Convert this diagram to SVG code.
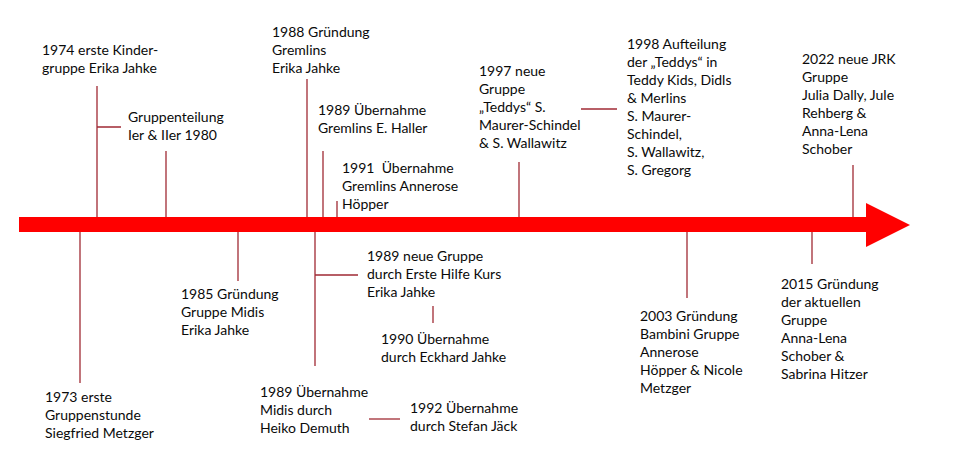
<svg xmlns="http://www.w3.org/2000/svg" width="960" height="466" viewBox="0 0 960 466">
<style>
text{font-family:Lato,"Liberation Sans","DejaVu Sans",sans-serif;font-size:14px;fill:#0a0a0a}
.c{stroke:#a02a34;stroke-width:1.3;fill:none}
</style>
<rect width="960" height="466" fill="#fff"/>
<g id="timeline">
<path d="M19 217 H866 V203 L910 225 L866 247 V232 H19 Z" fill="#ff0000"/>
</g>
<g id="connectors" class="c">
<path d="M97 86 V217 M97 127 H121"/>
<path d="M166 151 V217"/>
<path d="M307 79 V217"/>
<path d="M323 151 V217"/>
<path d="M337 201 V217"/>
<path d="M519 162 V217"/>
<path d="M581 109 H617"/>
<path d="M853 165 V217"/>
<path d="M80 232 V383"/>
<path d="M238 232 V281"/>
<path d="M315 232 V366 M315 275 H358"/>
<path d="M433 306 V323"/>
<path d="M369 419 H400"/>
<path d="M687 232 V298"/>
<path d="M812 232 V264"/>
</g>
<g id="e1974"><text x="42" y="55"><tspan x="42">1974 erste Kinder-</tspan><tspan x="42" dy="18">gruppe Erika Jahke</tspan></text></g>
<g id="e1980"><text x="128" y="122"><tspan x="128">Gruppenteilung</tspan><tspan x="128" dy="18">Ier &amp; IIer 1980</tspan></text></g>
<g id="e1988"><text x="272" y="37"><tspan x="272">1988 Gründung</tspan><tspan x="272" dy="18">Gremlins</tspan><tspan x="272" dy="18">Erika Jahke</tspan></text></g>
<g id="e1989g"><text x="318" y="115"><tspan x="318">1989 Übernahme</tspan><tspan x="318" dy="18">Gremlins E. Haller</tspan></text></g>
<g id="e1991"><text x="342" y="173" xml:space="preserve"><tspan x="342">1991  Übernahme</tspan><tspan x="342" dy="18">Gremlins Annerose</tspan><tspan x="342" dy="18">Höpper</tspan></text></g>
<g id="e1997"><text x="479" y="76"><tspan x="479">1997 neue</tspan><tspan x="479" dy="18">Gruppe</tspan><tspan x="479" dy="18">„Teddys“ S.</tspan><tspan x="479" dy="18">Maurer-Schindel</tspan><tspan x="479" dy="18">&amp; S. Wallawitz</tspan></text></g>
<g id="e1998"><text x="627" y="49"><tspan x="627">1998 Aufteilung</tspan><tspan x="627" dy="18">der „Teddys“ in</tspan><tspan x="627" dy="18">Teddy Kids, Didls</tspan><tspan x="627" dy="18">&amp; Merlins</tspan><tspan x="627" dy="18">S. Maurer-</tspan><tspan x="627" dy="18">Schindel,</tspan><tspan x="627" dy="18">S. Wallawitz,</tspan><tspan x="627" dy="18">S. Gregorg</tspan></text></g>
<g id="e2022"><text x="802" y="64"><tspan x="802">2022 neue JRK</tspan><tspan x="802" dy="18">Gruppe</tspan><tspan x="802" dy="18">Julia Dally, Jule</tspan><tspan x="802" dy="18">Rehberg &amp;</tspan><tspan x="802" dy="18">Anna-Lena</tspan><tspan x="802" dy="18">Schober</tspan></text></g>
<g id="e1973"><text x="45" y="402"><tspan x="45">1973 erste</tspan><tspan x="45" dy="18">Gruppenstunde</tspan><tspan x="45" dy="18">Siegfried Metzger</tspan></text></g>
<g id="e1985"><text x="181" y="299"><tspan x="181">1985 Gründung</tspan><tspan x="181" dy="18">Gruppe Midis</tspan><tspan x="181" dy="18">Erika Jahke</tspan></text></g>
<g id="e1989m"><text x="260" y="397"><tspan x="260">1989 Übernahme</tspan><tspan x="260" dy="18">Midis durch</tspan><tspan x="260" dy="18">Heiko Demuth</tspan></text></g>
<g id="e1989n"><text x="367" y="261"><tspan x="367">1989 neue Gruppe</tspan><tspan x="367" dy="18">durch Erste Hilfe Kurs</tspan><tspan x="367" dy="18">Erika Jahke</tspan></text></g>
<g id="e1990"><text x="381" y="344"><tspan x="381">1990 Übernahme</tspan><tspan x="381" dy="18">durch Eckhard Jahke</tspan></text></g>
<g id="e1992"><text x="410" y="413"><tspan x="410">1992 Übernahme</tspan><tspan x="410" dy="18">durch Stefan Jäck</tspan></text></g>
<g id="e2003"><text x="640" y="321"><tspan x="640">2003 Gründung</tspan><tspan x="640" dy="18">Bambini Gruppe</tspan><tspan x="640" dy="18">Annerose</tspan><tspan x="640" dy="18">Höpper &amp; Nicole</tspan><tspan x="640" dy="18">Metzger</tspan></text></g>
<g id="e2015"><text x="781" y="289"><tspan x="781">2015 Gründung</tspan><tspan x="781" dy="18">der aktuellen</tspan><tspan x="781" dy="18">Gruppe</tspan><tspan x="781" dy="18">Anna-Lena</tspan><tspan x="781" dy="18">Schober &amp;</tspan><tspan x="781" dy="18">Sabrina Hitzer</tspan></text></g>
</svg>
